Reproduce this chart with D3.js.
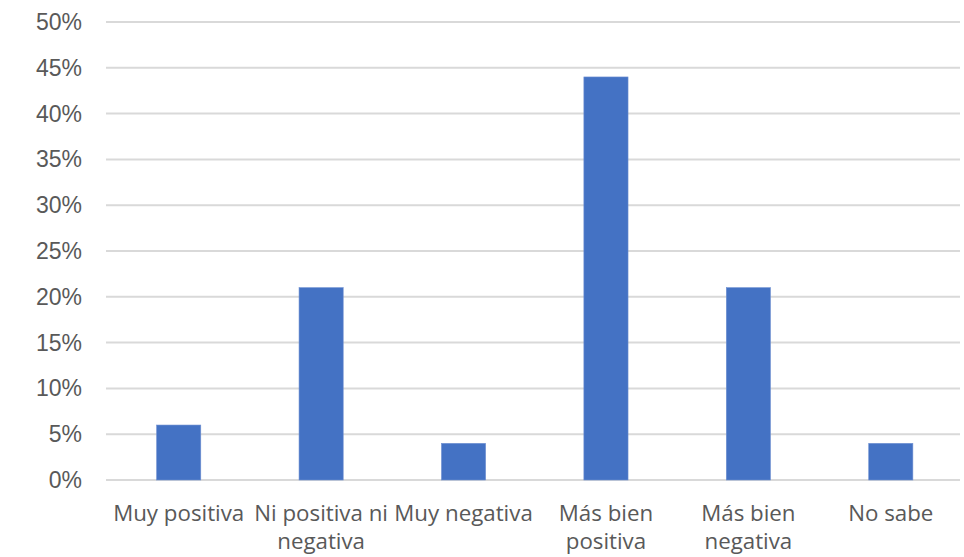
<!DOCTYPE html>
<html><head><meta charset="utf-8">
<script src="https://cdn.jsdelivr.net/npm/d3@7"></script>
<style>body{margin:0;background:#fff}svg{display:block}</style>
</head><body>
<svg id="c" width="964" height="557"></svg>
<script>
const categories = [["Muy positiva"],["Ni positiva ni","negativa"],["Muy negativa"],["Más bien","positiva"],["Más bien","negativa"],["No sabe"]];
const values = [0.06, 0.21, 0.04, 0.44, 0.21, 0.04];
const yTicks = [0,0.05,0.10,0.15,0.20,0.25,0.30,0.35,0.40,0.45,0.50];

(function(){
const svg = d3.select("#c");
const mL = 106, mR = 960, mT = 22, mB = 480;
const x = d3.scaleBand().domain(d3.range(categories.length)).range([107.5,962]).paddingInner(0.69).paddingOuter(0.345);
const y = d3.scaleLinear().domain([0,0.5]).range([mB,mT]);

svg.append("g").selectAll("line").data(yTicks).join("line")
  .attr("x1",mL).attr("x2",mR)
  .attr("y1",d=>y(d)).attr("y2",d=>y(d))
  .attr("stroke","#d9d9d9").attr("stroke-width",2);

svg.append("g").selectAll("text").data(yTicks).join("text")
  .attr("x",82).attr("y",d=>y(d)).attr("dy","0.35em")
  .attr("text-anchor","end")
  .attr("font-family","Liberation Sans, Arial, sans-serif").attr("font-size",23)
  .attr("fill","#595959")
  .text(d=>d3.format(".0%")(d));

svg.append("g").selectAll("rect").data(values).join("rect")
  .attr("x",(d,i)=>x(i)).attr("width",x.bandwidth())
  .attr("y",d=>y(d)).attr("height",d=>y(0)-y(d))
  .attr("fill","#4472C4").attr("stroke","#6e8fd1").attr("stroke-width",0.6);

const lab = svg.append("g").selectAll("text").data(categories).join("text")
  .attr("x",(d,i)=>x(i)+x.bandwidth()/2).attr("y",521)
  .attr("text-anchor","middle")
  .attr("font-family","Open Sans, sans-serif").attr("font-size",22.3)
  .attr("fill","#595959");
lab.each(function(d){
  const t=d3.select(this);
  d.forEach((s,j)=>t.append("tspan").attr("x",t.attr("x")).attr("dy",j?28:0).text(s));
});
})();
</script>
</body></html>
